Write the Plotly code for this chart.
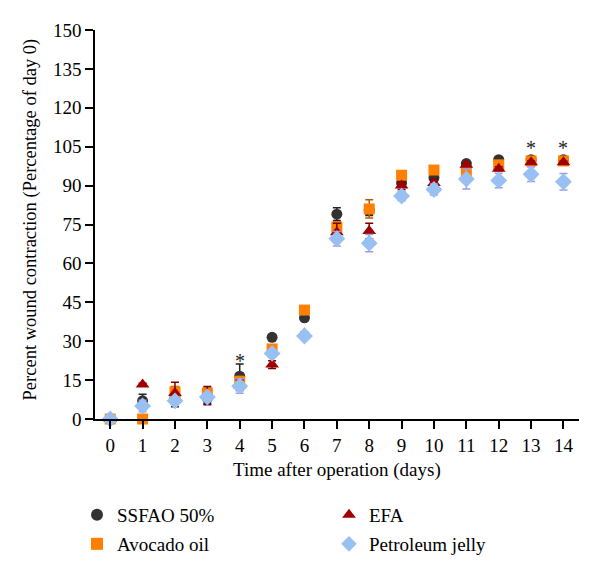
import plotly.graph_objects as go

days = list(range(15))
x_ticks = list(range(15))
y_ticks = [0, 15, 30, 45, 60, 75, 90, 105, 120, 135, 150]

ssfao = [0, 7, 8, 8, 16.5, 31.5, 39, 79, 80.5, 91, 93, 98.5, 100, 100, 100]
ssfao_err = [0, 2.5, 3.3, 2, 4.7, 1, 0.5, 2.5, 2, 1.5, 1.5, 0.5, 0.5, 0.5, 0.5]

avocado = [0, 0, 10.5, 10, 14.5, 27, 42, 74, 81, 94, 96, 95.5, 98, 99.5, 99.5]
avocado_err = [0, 0.5, 2, 2, 2, 1.5, 0.5, 2, 3.5, 1, 1, 1, 0.5, 0.5, 0.5]

efa = [0, 13.3, 10, 9, 13, 21, 33, 72, 72.5, 90, 91, 98, 96.5, 99, 99]
efa_err = [0, 0.5, 4.2, 3.5, 2, 1.5, 0.5, 3.5, 3, 1.5, 1.5, 0.5, 0.8, 0.5, 0.5]

pj = [0, 5, 7, 8.5, 12.7, 25.3, 32, 69.5, 67.8, 86, 88.5, 92.5, 92, 94.4, 91.5]
pj_err = [0, 2.2, 1, 1.5, 2.8, 1.5, 0.5, 2.8, 3.3, 1.8, 2.1, 3.8, 2.8, 2.8, 3.2]

star_days = [4, 13, 14]
star_values = [23.5, 105.5, 105.5]

FONT = "Liberation Serif, Times New Roman, serif"

series = [
    ("SSFAO 50%", ssfao, ssfao_err, "circle", "#333333", "#222222", 11, "legend"),
    ("Avocado oil", avocado, avocado_err, "square", "#ff8000", "#b85c00", 11, "legend2"),
    ("EFA", efa, efa_err, "triangle-up", "#a00000", "#7a0000", 12, "legend3"),
    ("Petroleum jelly", pj, pj_err, "diamond", "#99c0f2", "#9a9aee", 13, "legend4"),
]

fig = go.Figure()
for name, vals, errs, sym, col, ecol, size, leg in series:
    fig.add_trace(go.Scatter(
        x=days, y=vals, mode="markers", name=name, legend=leg,
        marker=dict(symbol=sym, color=col, size=size, line=dict(width=0)),
        error_y=dict(type="data", array=errs, visible=True, color=ecol,
                     thickness=1.5, width=4),
        cliponaxis=False,
    ))

for d, v in zip(star_days, star_values):
    fig.add_annotation(x=d, y=v, text="*", showarrow=False,
                       font=dict(family=FONT, size=20, color="#222"),
                       yshift=-3)

# axis titles
fig.add_annotation(text="Time after operation (days)", xref="paper", yref="paper",
                   x=0.5, y=0, yshift=-51, yanchor="middle", xanchor="center",
                   showarrow=False, font=dict(family=FONT, size=19, color="black"))
fig.add_annotation(text="Percent wound contraction (Percentage of day 0)",
                   xref="paper", yref="paper", x=-0.1343, y=0.513, textangle=-90,
                   xanchor="center", yanchor="middle", showarrow=False,
                   font=dict(family=FONT, size=18.5, color="black"))

OX, OY = 8, 8  # page offset of the plot div
leg_common = dict(font=dict(family=FONT, size=19, color="black"),
                  bgcolor="rgba(0,0,0,0)", xref="container", yref="container",
                  xanchor="left", yanchor="middle", itemsizing="constant")
fig.update_layout(
    width=600, height=575,
    plot_bgcolor="white", paper_bgcolor="white",
    margin=dict(l=95 - OX, r=21 + OX, t=30 - OY, b=156 + OY, autoexpand=False),
    font=dict(family=FONT, size=19, color="black"),
    showlegend=True,
    legend=dict(x=(77 - OX)/600, y=1-(515 - OY)/575, **leg_common),
    legend2=dict(x=(77 - OX)/600, y=1-(544 - OY)/575, **leg_common),
    legend3=dict(x=(329 - OX)/600, y=1-(515 - OY)/575, **leg_common),
    legend4=dict(x=(329 - OX)/600, y=1-(544 - OY)/575, **leg_common),
    xaxis=dict(range=[-0.47, 14.48], tickvals=x_ticks, showgrid=False,
               zeroline=False, showline=True, linecolor="black", linewidth=1.5,
               ticks="outside", ticklen=8, tickwidth=1.5, tickcolor="black",
               tickfont=dict(family=FONT, size=19), automargin=False),
    yaxis=dict(range=[0, 150], tickvals=y_ticks, showgrid=False,
               zeroline=False, showline=True, linecolor="black", linewidth=1.5,
               ticks="outside", ticklen=8, tickwidth=1.5, tickcolor="black",
               tickfont=dict(family=FONT, size=19), automargin=False),
)

fig.write_html("out.html")
